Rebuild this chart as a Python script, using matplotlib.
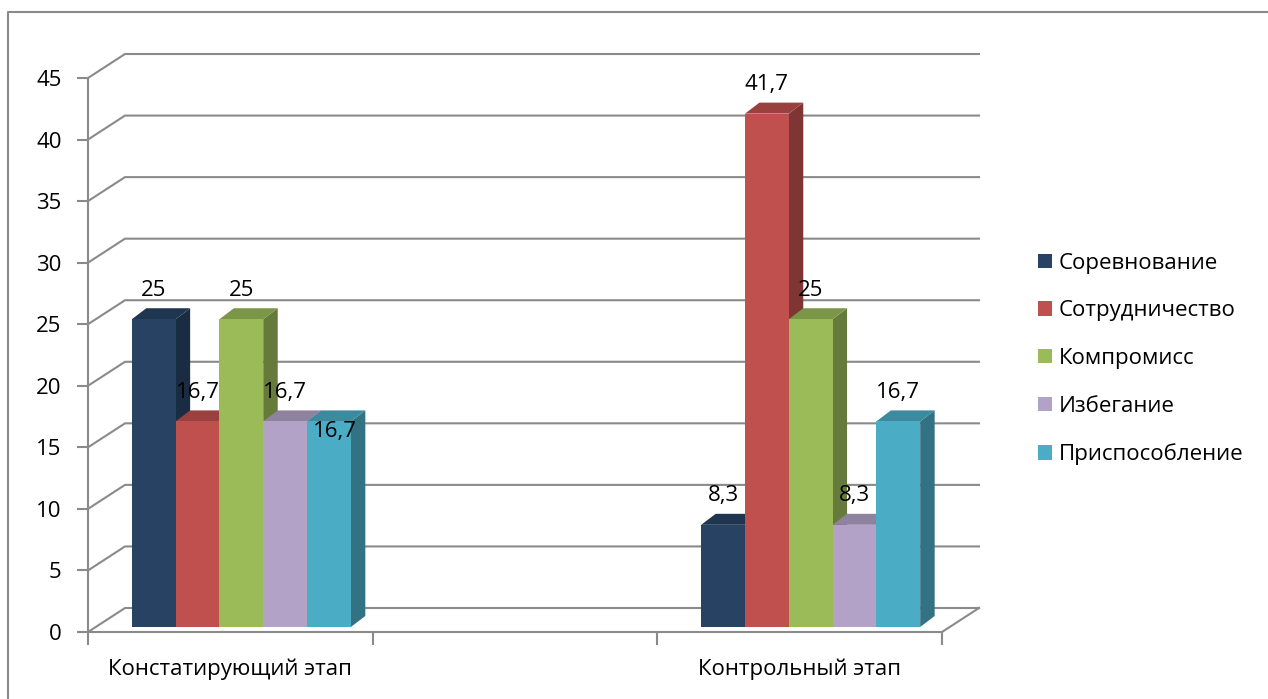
import matplotlib
matplotlib.use("Agg")
import matplotlib.pyplot as plt
import matplotlib.colors as mcolors
from matplotlib.patches import Polygon, Patch
from matplotlib.lines import Line2D

plt.rcParams['font.family'] = ['Open Sans', 'DejaVu Sans']
plt.rcParams['font.size'] = 16

# categories on the x axis (middle slot is empty in the original chart)
categories = ['Констатирующий этап', '', 'Контрольный этап']
series = ['Соревнование', 'Сотрудничество', 'Компромисс', 'Избегание', 'Приспособление']
konst_values = [25, 16.7, 25, 16.7, 16.7]
kontr_values = [8.3, 41.7, 25, 8.3, 16.7]
konst_labels = ['25', '16,7', '25', '16,7', '16,7']
kontr_labels = ['8,3', '41,7', '25', '8,3', '16,7']
yticks = [0, 5, 10, 15, 20, 25, 30, 35, 40, 45]

colors = ['#284263', '#c0504d', '#9bbb59', '#b3a2c7', '#4bacc6']
grid_color = '#8a8a8a'


def shade(c, f):
    r, g, b = mcolors.to_rgb(c)
    return (r * f, g * f, b * f)


W, H = 1268, 699
fig = plt.figure(figsize=(W / 100, H / 100), dpi=100)
ax = fig.add_axes([88 / W, (H - 632) / H, 854 / W, 554 / H])
ax.set_xlim(0, len(categories))
ax.set_ylim(0, 45)

# pixel -> data units
ux = len(categories) / 854
uy = 45 / 554

# pseudo 3d offsets
DX, DY = 37 * ux, 24 * uy        # wall depth
SX, SY = 11 * ux, 5 * uy         # bars set back from the front
BDX, BDY = 14.5 * ux, 11 * uy    # bar depth
w = 43.8 * ux

for s in ['top', 'right']:
    ax.spines[s].set_visible(False)
for s in ['left', 'bottom']:
    ax.spines[s].set_color(grid_color)
    ax.spines[s].set_linewidth(1.5)

ax.set_yticks(yticks)
ax.set_yticklabels([str(t) for t in yticks])
ax.tick_params(axis='y', length=8, width=1.5, color=grid_color, pad=11)
ax.set_xticks(range(len(categories) + 1))
ax.set_xticklabels([])
ax.tick_params(axis='x', which='major', length=9, width=1.5, color=grid_color)
ax.set_xticks([i + 0.5 for i in range(len(categories))], minor=True)
ax.set_xticklabels(categories, minor=True)
ax.tick_params(axis='x', which='minor', length=0, pad=19)

# back wall gridlines + floor
for v in yticks:
    ax.plot([0, DX, len(categories) + DX], [v, v + DY, v + DY],
            color=grid_color, lw=1.5, clip_on=False, zorder=1)
ax.plot([len(categories), len(categories) + DX], [0, DY],
        color=grid_color, lw=1.5, clip_on=False, zorder=1)

groups = [(0, konst_values, konst_labels), (2, kontr_values, kontr_labels)]
# Excel dropped one label inside the bar
label_nudge = {(0, 4): (6 * ux, -39.5 * uy)}

for gi, vals, labs in groups:
    center = gi + 0.5
    for i, v in enumerate(vals):
        x0 = center - 2.5 * w + i * w + SX
        x1 = x0 + w
        top = v + SY
        z = 3 + i * 0.1
        c = colors[i]
        side = Polygon([(x1, SY), (x1 + BDX, SY + BDY), (x1 + BDX, top + BDY), (x1, top)],
                       closed=True, facecolor=shade(c, 0.66), edgecolor='none', zorder=z)
        lid = Polygon([(x0, top), (x0 + BDX, top + BDY), (x1 + BDX, top + BDY), (x1, top)],
                      closed=True, facecolor=shade(c, 0.8), edgecolor='none', zorder=z + 0.01)
        ax.add_patch(side)
        ax.add_patch(lid)
        ax.bar(x0, v, width=w, bottom=SY, align='edge', color=c, zorder=z + 0.02)
        nx, ny = label_nudge.get((gi, i), (0, 0))
        ax.text(x0 + w / 2 + nx, top + BDY + 18 * uy + ny, labs[i],
                ha='center', va='center', zorder=10)

handles = [Patch(facecolor=c) for c in colors]
fig.legend(handles, series, loc='center left', bbox_to_anchor=(1027 / W, 1 - 359 / H),
           frameon=False, handlelength=0.62, handleheight=0.62, handletextpad=0.3,
           labelspacing=1.2, borderpad=0)

fig.add_artist(Line2D([8 / W, 8 / W, 1], [0, 1 - 12 / H, 1 - 12 / H],
                      transform=fig.transFigure, color=grid_color, lw=1.5))

fig.savefig('out.png', dpi=100)
